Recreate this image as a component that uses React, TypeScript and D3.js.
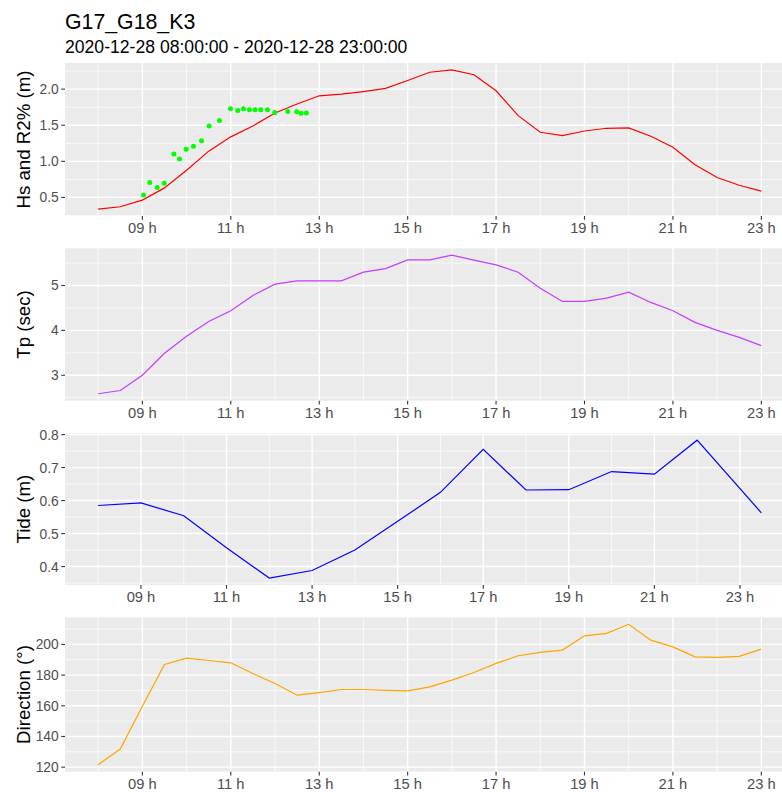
import React from 'react';
import * as d3 from 'd3';

// ---------- data ----------
const hsTime = [8, 8.5, 9, 9.5, 10, 10.5, 11, 11.5, 12, 12.5, 13, 13.5, 14, 14.5, 15, 15.5, 16, 16.5, 17, 17.5, 18, 18.5, 19, 19.5, 20, 20.5, 21, 21.5, 22, 22.5, 23];
const hsValue = [0.339, 0.371, 0.463, 0.632, 0.876, 1.141, 1.339, 1.49, 1.67, 1.794, 1.908, 1.93, 1.967, 2.01, 2.12, 2.234, 2.266, 2.2, 1.977, 1.633, 1.403, 1.357, 1.42, 1.458, 1.463, 1.348, 1.196, 0.954, 0.775, 0.669, 0.587];

const r2Time = [9.026, 9.169, 9.335, 9.494, 9.712, 9.84, 9.99, 10.156, 10.337, 10.51, 10.744, 10.993, 11.158, 11.287, 11.423, 11.55, 11.679, 11.83, 11.995, 12.289, 12.49, 12.59, 12.71];
const r2Value = [0.532, 0.706, 0.638, 0.697, 1.1, 1.031, 1.169, 1.21, 1.284, 1.49, 1.564, 1.729, 1.706, 1.729, 1.715, 1.715, 1.715, 1.715, 1.678, 1.692, 1.688, 1.665, 1.67];

const tpTime = [8, 8.5, 9, 9.5, 10, 10.5, 11, 11.5, 12, 12.5, 13, 13.5, 14, 14.5, 15, 15.5, 16, 16.5, 17, 17.5, 18, 18.5, 19, 19.5, 20, 20.5, 21, 21.5, 22, 22.5, 23];
const tpValue = [2.587, 2.66, 3.0, 3.49, 3.867, 4.2, 4.438, 4.778, 5.03, 5.104, 5.104, 5.104, 5.297, 5.378, 5.571, 5.571, 5.675, 5.567, 5.46, 5.297, 4.94, 4.645, 4.645, 4.719, 4.852, 4.623, 4.438, 4.178, 4.0, 3.845, 3.66];

const tideTime = [8, 9, 10, 11, 12, 13, 14, 15, 16, 17, 18, 19, 20, 21, 22, 23.5];
const tideValue = [0.585, 0.593, 0.554, 0.457, 0.365, 0.388, 0.45, 0.537, 0.625, 0.755, 0.632, 0.633, 0.688, 0.68, 0.783, 0.563];

const dirTime = [8, 8.5, 9, 9.5, 10, 10.5, 11, 11.5, 12, 12.5, 13, 13.5, 14, 14.5, 15, 15.5, 16, 16.5, 17, 17.5, 18, 18.5, 19, 19.5, 20, 20.5, 21, 21.5, 22, 22.5, 23];
const dirValue = [121.6, 131.8, 159.7, 186.9, 191.0, 189.5, 188.0, 181.0, 174.5, 166.9, 168.6, 170.6, 170.6, 170.1, 169.7, 172.3, 176.7, 181.7, 187.6, 192.6, 194.8, 196.3, 205.6, 207.2, 213.1, 202.8, 198.4, 191.9, 191.5, 192.2, 196.9];

const hourTicks = [9, 11, 13, 15, 17, 19, 21, 23];
const hsTicks = [0.5, 1.0, 1.5, 2.0];
const tpTicks = [3, 4, 5];
const tideTicks = [0.4, 0.5, 0.6, 0.7, 0.8];
const dirTicks = [120, 140, 160, 180, 200];

const titleText = 'G17_G18_K3';
const subtitleText = '2020-12-28 08:00:00 - 2020-12-28 23:00:00';

// ---------- layout ----------
const FONT = '"Liberation Sans", Arial, Helvetica, sans-serif';
const LEFT = 65;
const RIGHT = 794.5;

type Series = { t: number[]; v: number[]; color: string; kind: 'line' | 'point' };

function expand(ext: [number, number]): [number, number] {
  const r = ext[1] - ext[0];
  return [ext[0] - 0.05 * r, ext[1] + 0.05 * r];
}

function Panel(props: {
  top: number;
  bottom: number;
  series: Series[];
  yTicks: number[];
  yFmt: (v: number) => string;
  yTitle: string;
}) {
  const { top, bottom, series, yTicks, yFmt, yTitle } = props;
  const allT = series.filter(s => s.kind === 'line').flatMap(s => s.t);
  const allV = series.flatMap(s => s.v);
  const xDom = expand(d3.extent(allT) as [number, number]);
  const yDom = expand(d3.extent(allV) as [number, number]);
  const x = d3.scaleLinear().domain(xDom).range([LEFT, RIGHT]);
  const y = d3.scaleLinear().domain(yDom).range([bottom, top]);

  const xMinor = d3.range(6, 26, 2).filter(h => h >= xDom[0] && h <= xDom[1]);
  const step = yTicks[1] - yTicks[0];
  const yMinor = [yTicks[0] - step / 2, ...yTicks.map(t => t + step / 2)].filter(v => v >= yDom[0] && v <= yDom[1]);

  return (
    <g>
      <rect x={LEFT} y={top} width={RIGHT - LEFT} height={bottom - top} fill="#EBEBEB" />
      {yMinor.map(v => (
        <line key={'ym' + v} x1={LEFT} x2={RIGHT} y1={y(v)} y2={y(v)} stroke="#fff" strokeWidth={0.7} />
      ))}
      {xMinor.map(h => (
        <line key={'xm' + h} x1={x(h)} x2={x(h)} y1={top} y2={bottom} stroke="#fff" strokeWidth={0.7} />
      ))}
      {yTicks.map(v => (
        <line key={'yM' + v} x1={LEFT} x2={RIGHT} y1={y(v)} y2={y(v)} stroke="#fff" strokeWidth={1.4} />
      ))}
      {hourTicks.map(h => (
        <line key={'xM' + h} x1={x(h)} x2={x(h)} y1={top} y2={bottom} stroke="#fff" strokeWidth={1.4} />
      ))}
      {series.map((s, si) => {
        if (s.kind === 'line') {
          const gen = d3.line<number>().x((_, i) => x(s.t[i])).y(d => y(d));
          return <path key={si} d={gen(s.v) || ''} fill="none" stroke={s.color} strokeWidth={1.2} />;
        }
        return (
          <g key={si}>
            {s.v.map((d, i) => (
              <circle key={i} cx={x(s.t[i])} cy={y(d)} r={2.5} fill={s.color} />
            ))}
          </g>
        );
      })}
      {/* y axis */}
      {yTicks.map(v => (
        <g key={'yt' + v}>
          <line x1={LEFT - 3.7} x2={LEFT} y1={y(v)} y2={y(v)} stroke="#333" strokeWidth={1.1} />
          <text x={LEFT - 6.3} y={y(v)} dy="0.36em" textAnchor="end" fontSize={13.8} fill="#4D4D4D" fontFamily={FONT}>
            {yFmt(v)}
          </text>
        </g>
      ))}
      {/* x axis */}
      {hourTicks.map(h => (
        <g key={'xt' + h}>
          <line x1={x(h)} x2={x(h)} y1={bottom} y2={bottom + 3.7} stroke="#333" strokeWidth={1.1} />
          <text x={x(h)} y={bottom + 17.4} textAnchor="middle" fontSize={14.7} fill="#4D4D4D" fontFamily={FONT}>
            {String(h).padStart(2, '0') + ' h'}
          </text>
        </g>
      ))}
      <text
        transform={`translate(29.5,${(top + bottom) / 2}) rotate(-90)`}
        textAnchor="middle"
        fontSize={18.7}
        fill="#000"
        fontFamily={FONT}
      >
        {yTitle}
      </text>
    </g>
  );
}

export default function App() {
  return (
    <svg
      width={782}
      height={792}
      style={{ position: 'absolute', left: 0, top: 0, display: 'block', background: '#fff' }}
    >
      <rect width={782} height={792} fill="#fff" />
      <text x={65} y={29.3} fontSize={21.3} fontFamily={FONT} fill="#000">{titleText}</text>
      <text x={65} y={53.3} fontSize={17.6} fontFamily={FONT} fill="#000">{subtitleText}</text>
      <Panel
        top={63}
        bottom={216}
        series={[
          { t: hsTime, v: hsValue, color: '#FF0000', kind: 'line' },
          { t: r2Time, v: r2Value, color: '#00FF00', kind: 'point' },
        ]}
        yTicks={hsTicks}
        yFmt={v => v.toFixed(1)}
        yTitle="Hs and R2% (m)"
      />
      <Panel
        top={248.3}
        bottom={400.7}
        series={[{ t: tpTime, v: tpValue, color: '#C43EFF', kind: 'line' }]}
        yTicks={tpTicks}
        yFmt={v => String(v)}
        yTitle="Tp (sec)"
      />
      <Panel
        top={433.3}
        bottom={585}
        series={[{ t: tideTime, v: tideValue, color: '#0000FF', kind: 'line' }]}
        yTicks={tideTicks}
        yFmt={v => v.toFixed(1)}
        yTitle="Tide (m)"
      />
      <Panel
        top={617.3}
        bottom={771.7}
        series={[{ t: dirTime, v: dirValue, color: '#FFA500', kind: 'line' }]}
        yTicks={dirTicks}
        yFmt={v => String(v)}
        yTitle="Direction (°)"
      />
    </svg>
  );
}
